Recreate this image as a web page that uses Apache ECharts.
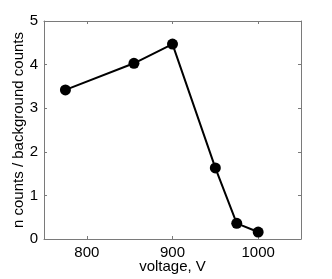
<!DOCTYPE html>
<html><head><meta charset="utf-8">
<script src="https://cdn.jsdelivr.net/npm/echarts@6/dist/echarts.min.js"></script>
<style>html,body{margin:0;padding:0;background:#fff}#c{width:332px;height:279px}</style>
</head><body><div id="c"></div>
<script>
var voltage = [775, 855, 900, 950, 975, 1000];
var ratio = [3.42, 4.03, 4.47, 1.63, 0.36, 0.16];
var xTicks = [800, 900, 1000];
var yTicks = [0, 1, 2, 3, 4, 5];

var font = 'Liberation Sans, Arial, sans-serif';
var axisGray = '#7a7a7a';
var chart = echarts.init(document.getElementById('c'), null, {renderer: 'canvas'});
var data = voltage.map(function (v, i) { return [v, ratio[i]]; });
var common = {
  axisLine: {show: true, onZero: false, lineStyle: {color: axisGray, width: 1}},
  axisTick: {show: true, inside: true, length: 3, lineStyle: {color: axisGray}},
  splitLine: {show: false}
};
chart.setOption({
  animation: false,
  grid: {left: 44, right: 31, top: 21, bottom: 40, containLabel: false, outerBoundsMode: 'none'},
  xAxis: [
    Object.assign({type: 'value', min: 750, max: 1050, interval: 50, position: 'bottom',
      name: 'voltage, V', nameLocation: 'middle', nameGap: 20, nameMoveOverlap: false,
      nameTextStyle: {fontFamily: font, fontSize: 15, color: '#000'},
      axisLabel: {fontFamily: font, fontSize: 15, color: '#000', margin: 6,
        formatter: function (v) { return xTicks.indexOf(v) >= 0 ? String(v) : ''; }},
      axisTick: {show: true, inside: true, length: 3, lineStyle: {color: axisGray},
        customValues: xTicks}
    }, {axisLine: common.axisLine, splitLine: common.splitLine}),
    {type: 'value', min: 750, max: 1050, position: 'top',
      axisLine: common.axisLine, splitLine: {show: false}, axisLabel: {show: false},
      axisTick: {show: true, inside: true, length: 3, lineStyle: {color: axisGray}, customValues: xTicks}}
  ],
  yAxis: [
    Object.assign({type: 'value', min: 0, max: 5, interval: 1, position: 'left',
      name: 'n counts / background counts', nameLocation: 'middle', nameGap: 18, nameMoveOverlap: false,
      nameTextStyle: {fontFamily: font, fontSize: 15, color: '#000'},
      axisLabel: {fontFamily: font, fontSize: 15, color: '#000', margin: 6}
    }, common),
    Object.assign({type: 'value', min: 0, max: 5, interval: 1, position: 'right',
      axisLabel: {show: false}}, common)
  ],
  series: [{
    type: 'line', xAxisIndex: 0, yAxisIndex: 0, data: data,
    symbol: 'circle', symbolSize: 11,
    lineStyle: {color: '#000', width: 2},
    itemStyle: {color: '#000'}
  }]
});
</script></body></html>
